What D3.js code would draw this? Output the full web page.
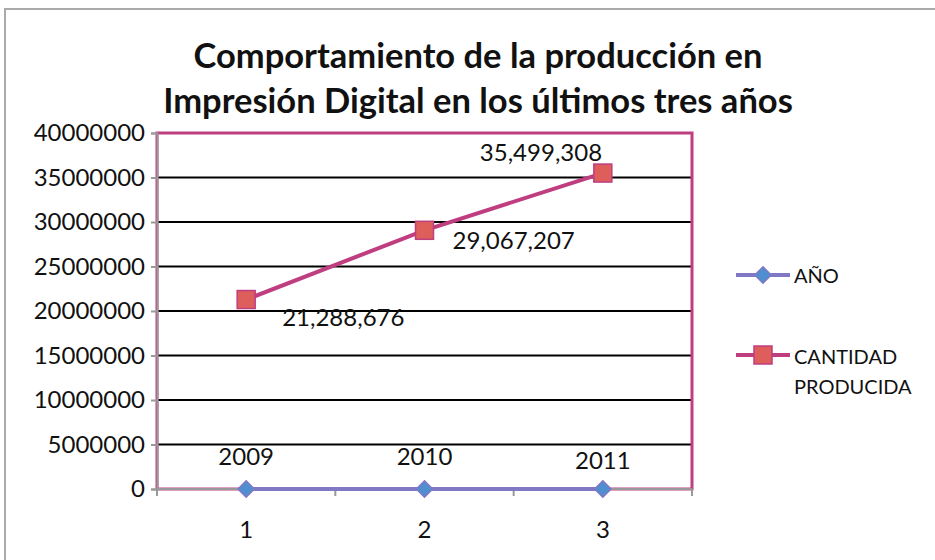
<!DOCTYPE html>
<html>
<head>
<meta charset="utf-8">
<script src="https://cdn.jsdelivr.net/npm/d3@7/dist/d3.min.js"></script>
<style>
  body { margin: 0; background: #fff; }
  text { font-family: Lato, "Open Sans", sans-serif; fill: #111; }
</style>
</head>
<body>
<svg id="chart"></svg>
<script>
(function() {

// data
const categories = [1, 2, 3];
const anio = [2009, 2010, 2011];
const cantidad = [21288676, 29067207, 35499308];
const yTicks = [0, 5000000, 10000000, 15000000, 20000000, 25000000, 30000000, 35000000, 40000000];
const seriesNames = ["AÑO", "CANTIDAD PRODUCIDA"];
const titleLines = ["Comportamiento de la producción en", "Impresión Digital en los últimos tres años"];

const W = 935, H = 560;
const margin = { top: 133, right: 243, bottom: 71, left: 157 };
const width = W - margin.left - margin.right;
const height = H - margin.top - margin.bottom;

const colorCant = "#be3e80";
const colorCantFill = "#dd5e5a";
const colorAnio = "#8078c4";
const colorAnioFill = "#4f8fd0";

const svg = d3.select("#chart")
    .attr("width", W)
    .attr("height", H);

// outer frame (bottom and right cut off)
svg.append("rect")
    .attr("x", 5).attr("y", 9)
    .attr("width", W + 20).attr("height", H + 20)
    .attr("fill", "none")
    .attr("stroke", "#aaa")
    .attr("stroke-width", 2);

// title
svg.append("text")
    .attr("x", 478)
    .attr("y", 68)
    .attr("text-anchor", "middle")
    .attr("font-size", "34.5px")
    .attr("font-weight", "bold")
    .selectAll("tspan")
    .data(titleLines)
    .enter().append("tspan")
    .attr("x", 478)
    .attr("dy", (d, i) => i === 0 ? 0 : 45)
    .text(d => d);

const g = svg.append("g")
    .attr("transform", `translate(${margin.left},${margin.top})`);

const x = d3.scaleBand().domain(categories).range([0, width]);
const y = d3.scaleLinear().domain([0, 40000000]).range([height, 0]);

// gridlines
g.selectAll(".grid")
    .data(yTicks.filter(t => t > 0 && t < 40000000))
    .enter().append("line")
    .attr("class", "grid")
    .attr("x1", 0).attr("x2", width)
    .attr("y1", d => y(d)).attr("y2", d => y(d))
    .attr("stroke", "#000")
    .attr("stroke-width", 2);

// plot border
g.append("rect")
    .attr("x", 0).attr("y", 0)
    .attr("width", width).attr("height", height)
    .attr("fill", "none")
    .attr("stroke", colorCant)
    .attr("stroke-width", 3);

// Y-axis
const yAxis = g.append("g")
    .call(d3.axisLeft(y).tickValues(yTicks).tickFormat(d3.format("d")).tickSize(6).tickPadding(6));
yAxis.select(".domain").attr("stroke", "#999").attr("stroke-width", 2);
yAxis.selectAll(".tick line").attr("stroke", "#999").attr("stroke-width", 2);
yAxis.selectAll("text").attr("font-size", "24px").attr("font-family", "Lato, sans-serif").attr("fill", "#111");

// X-axis
const xAxis = g.append("g")
    .attr("transform", `translate(0,${height})`)
    .call(d3.axisBottom(x).tickSize(0).tickPadding(32));
xAxis.select(".domain").attr("stroke", "#999").attr("stroke-width", 2).attr("d", `M0,0H${width}`);
xAxis.selectAll("text").attr("font-size", "24px").attr("font-family", "Lato, sans-serif").attr("fill", "#111");
xAxis.selectAll(".bound")
    .data(categories.map(c => x(c)).concat([width]))
    .enter().append("line")
    .attr("class", "bound")
    .attr("x1", d => d).attr("x2", d => d)
    .attr("y1", 0).attr("y2", 7)
    .attr("stroke", "#999")
    .attr("stroke-width", 2);

const cx = c => x(c) + x.bandwidth() / 2;
const line = d3.line().x(d => cx(d[0])).y(d => y(d[1]));

// AÑO series
const anioPts = categories.map((c, i) => [c, anio[i]]);
g.append("path")
    .datum(anioPts)
    .attr("d", line)
    .attr("fill", "none")
    .attr("stroke", colorAnio)
    .attr("stroke-width", 4);
const diamond = d3.symbol().type(d3.symbolDiamond2).size(170);
g.selectAll(".dmark")
    .data(anioPts)
    .enter().append("path")
    .attr("class", "dmark")
    .attr("transform", d => `translate(${cx(d[0])},${y(d[1])})`)
    .attr("d", diamond)
    .attr("fill", colorAnioFill)
    .attr("stroke", colorAnio)
    .attr("stroke-width", 1.5);

// CANTIDAD series
const cantPts = categories.map((c, i) => [c, cantidad[i]]);
g.append("path")
    .datum(cantPts)
    .attr("d", line)
    .attr("fill", "none")
    .attr("stroke", colorCant)
    .attr("stroke-width", 4);
g.selectAll(".smark")
    .data(cantPts)
    .enter().append("rect")
    .attr("class", "smark")
    .attr("x", d => cx(d[0]) - 9)
    .attr("y", d => y(d[1]) - 9)
    .attr("width", 18).attr("height", 18)
    .attr("fill", colorCantFill)
    .attr("stroke", colorCant)
    .attr("stroke-width", 1.5);

// data labels
const fmt = d3.format(",");
const anioOff = [[0, -24], [0, -24], [0, -20]];
g.selectAll(".alab")
    .data(anioPts)
    .enter().append("text")
    .attr("class", "alab")
    .attr("x", (d, i) => cx(d[0]) + anioOff[i][0])
    .attr("y", (d, i) => y(d[1]) + anioOff[i][1])
    .attr("text-anchor", "middle")
    .attr("font-size", "24px")
    .text(d => d[1]);

const cantOff = [[36, 26], [28, 19], [-123, -12]];
g.selectAll(".clab")
    .data(cantPts)
    .enter().append("text")
    .attr("class", "clab")
    .attr("x", (d, i) => cx(d[0]) + cantOff[i][0])
    .attr("y", (d, i) => y(d[1]) + cantOff[i][1])
    .attr("text-anchor", "start")
    .attr("font-size", "24px")
    .text(d => fmt(d[1]));

// legend
const legend = svg.append("g").attr("transform", "translate(736,0)");
const legY = [275, 355];
legY.forEach((ly, i) => {
    legend.append("line")
        .attr("x1", 0).attr("x2", 54)
        .attr("y1", ly).attr("y2", ly)
        .attr("stroke", i === 0 ? colorAnio : colorCant)
        .attr("stroke-width", 4);
});
legend.append("path")
    .attr("transform", `translate(27,${legY[0]})`)
    .attr("d", diamond)
    .attr("fill", colorAnioFill)
    .attr("stroke", colorAnio)
    .attr("stroke-width", 1.5);
legend.append("rect")
    .attr("x", 18).attr("y", legY[1] - 9)
    .attr("width", 18).attr("height", 18)
    .attr("fill", colorCantFill)
    .attr("stroke", colorCant)
    .attr("stroke-width", 1.5);
legend.append("text")
    .attr("x", 58).attr("y", legY[0] + 8)
    .attr("font-size", "20px")
    .text(seriesNames[0]);
const words = seriesNames[1].split(" ");
legend.append("text")
    .attr("x", 58).attr("y", legY[1] + 9)
    .attr("font-size", "20px")
    .selectAll("tspan")
    .data(words)
    .enter().append("tspan")
    .attr("x", 58)
    .attr("dy", (d, i) => i === 0 ? 0 : 30)
    .text(d => d);

})();
</script>
</body>
</html>
